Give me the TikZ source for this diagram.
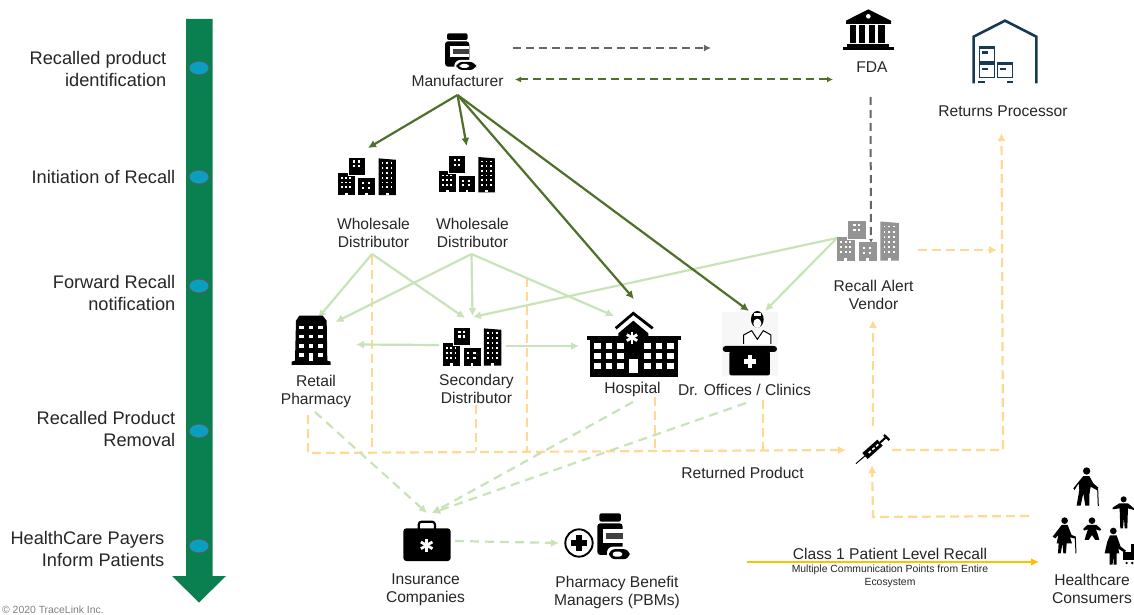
\documentclass[tikz,border=0pt]{standalone}
\usepackage{fontspec}
\setmainfont{Liberation Sans}
\usetikzlibrary{arrows.meta}
\definecolor{darkg}{HTML}{4F6F2A}
\definecolor{lightg}{HTML}{C9E3B8}
\definecolor{orng}{HTML}{FFD992}
\definecolor{gold}{HTML}{FFC000}
\definecolor{bar}{HTML}{0A8051}
\definecolor{dotc}{HTML}{0A9FBE}
\definecolor{navy}{HTML}{173A52}
\definecolor{txt}{HTML}{262626}
\tikzset{
  x=1pt,y=-1pt,
  lab/.style={inner sep=0pt,align=center,text=txt,font=\fontsize{15.6}{18}\selectfont},
  side/.style={inner sep=0pt,align=right,anchor=east,text=txt,font=\fontsize{18.2}{22}\selectfont},
  tipL/.style={-{Latex[length=8pt,width=8pt]}},
  solidG/.style={draw=darkg,line width=2.2pt,tipL},
  solidL/.style={draw=lightg,line width=2.2pt,tipL},
  dashL/.style={draw=lightg,line width=2.2pt,tipL,dash pattern=on 9pt off 6pt},
  dashO/.style={draw=orng,line width=2.2pt,dash pattern=on 9pt off 5pt},
  dashG/.style={draw=#1,line width=2pt,dash pattern=on 8pt off 5pt},
  dot/.style={draw=gray!70!black,line width=0.8pt,fill=dotc},
}
\newcommand\bldg[4]{%
  \begin{scope}[shift={(#1,#2)},scale=#3]
    \fill[#4] (0,46) rectangle (49,110);
    \fill[#4] (59,60) rectangle (108,110);
    \draw[white,line width=1pt,fill=#4] (29,0) rectangle (79,53);
    \fill[#4] (117,4) -- (167,8) -- (167,110) -- (117,110) -- cycle;
    \foreach \wx in {9,21,33}\foreach \wy in {57,71,85}\fill[white] (\wx,\wy) rectangle +(5,5);
    \foreach \wx in {44,57}\foreach \wy in {10,24}\fill[white] (\wx,\wy) rectangle +(6,6);
    \foreach \wx in {69,87}\foreach \wy in {72,86}\fill[white] (\wx,\wy) rectangle +(6,6);
    \foreach \wx in {126,139,152}\foreach \wy in {15,29,43,57,71,85}\fill[white] (\wx,\wy) rectangle +(5,5);
    \fill[white] (20,103) rectangle (28,110);
    \fill[white] (79,103) rectangle (87,110);
    \fill[white] (138,103) rectangle (146,110);
  \end{scope}}
\newcommand\bottle[4]{%
  \begin{scope}[shift={(#1,#2)},xscale=#3,yscale=#4]
    \fill[black,rounded corners=2pt] (6,0) rectangle (68,20);
    \fill[black,rounded corners=3pt] (0,24) rectangle (73,100);
    \fill[white] (15,38) rectangle (73,72);
    \fill[black!75] (24,48) rectangle (73,62);
    \fill[white,rounded corners=6pt] (28,80) rectangle (98,116);
    \fill[black,rounded corners=6pt] (34,86) rectangle (93,110);
    \fill[white,rounded corners=3pt] (44,92) rectangle (72,104);
  \end{scope}}
\begin{document}
\begin{tikzpicture}
\useasboundingbox (0,0) rectangle (1134,615);
\fill[white] (0,0) rectangle (1134,615);

% timeline bar
\fill[bar] (186,19) -- (212.5,19) -- (212.5,576) -- (226,576) -- (199,602.5) -- (172,576) -- (186,576) -- cycle;
\foreach \ey in {68,177,286,431,546}\draw[dot] (199,\ey) ellipse (10 and 7);

% side labels
\node[side] (s1) at (166.5,69) {Recalled product\\identification};
\node[side] (s2) at (175.5,177) {Initiation of Recall};
\node[side] (s3) at (175.5,293) {Forward Recall\\notification};
\node[side] (s4) at (175.5,429) {Recalled Product\\Removal};
\node[side] (s5) at (164.5,549) {HealthCare Payers\\Inform Patients};
\node[inner sep=0pt,anchor=west,text=black!50,font=\fontsize{10.4}{12}\selectfont] (c) at (2,610) {© 2020 TraceLink Inc.};

% named connector points
\coordinate (mO) at (457.5,95);
\coordinate (wdA) at (368,148);
\coordinate (wdB) at (466.7,146);
\coordinate (hosT) at (634,299);
\coordinate (docT) at (749,311);
\coordinate (g1s) at (513,48); \coordinate (g1e) at (711,48);
\coordinate (g2s) at (515,79.5); \coordinate (g2e) at (833,79.5);
\coordinate (fdaB) at (870.5,97); \coordinate (ravT) at (871,243);
\coordinate (w1B) at (372,254); \coordinate (w2B) at (471.5,254);
\coordinate (rp1) at (318,318); \coordinate (rp2) at (335.5,322);
\coordinate (sd1) at (465,318); \coordinate (sd2) at (472.5,316); \coordinate (sd3) at (473,317);
\coordinate (hos1) at (614,316);
\coordinate (rav) at (837,238); \coordinate (doc2) at (765,311);
\coordinate (sdL) at (439,345); \coordinate (rpR) at (356,344.5);
\coordinate (sdR) at (506,346); \coordinate (hosL) at (579,346);
\coordinate (or1) at (372,256); \coordinate (or1b) at (372,452);
\coordinate (or2) at (308,415); \coordinate (or2b) at (308,453); \coordinate (or2e) at (846,450);
\coordinate (or3) at (476,405); \coordinate (or3b) at (476,451);
\coordinate (or4) at (527,278); \coordinate (or4b) at (527,451);
\coordinate (or5) at (655,397); \coordinate (or5b) at (655,450);
\coordinate (or6) at (763,400); \coordinate (or6b) at (763,450);
\coordinate (or7) at (892,450); \coordinate (or7b) at (1003,450); \coordinate (retB) at (1001.5,133);
\coordinate (or8) at (873,426); \coordinate (ravB) at (873,320);
\coordinate (conL) at (1029,516); \coordinate (or9) at (873,517); \coordinate (syrB) at (872,465);
\coordinate (or10) at (918,250); \coordinate (or10e) at (997,250);
\coordinate (ld1) at (315,412); \coordinate (ld2) at (633,402); \coordinate (ld3) at (746,403);
\coordinate (ins1) at (427,513); \coordinate (ins2) at (432,513);
\coordinate (insR) at (455,541); \coordinate (pbmL) at (559,543);
\coordinate (c1s) at (747,562); \coordinate (c1e) at (1039,562);

% orange returns
\draw[dashO] (or1) -- (or1b);
\draw[dashO,tipL] (or2) -- (or2b) -- (or2e);
\draw[dashO] (or3) -- (or3b);
\draw[dashO] (or4) -- (or4b);
\draw[dashO] (or5) -- (or5b);
\draw[dashO] (or6) -- (or6b);
\draw[dashO,tipL] (or7) -- (or7b) -- (retB);
\draw[dashO,tipL] (or8) -- (ravB);
\draw[dashO,tipL] (conL) -- (or9) -- (syrB);
\draw[dashO,tipL] (or10) -- (or10e);

% light green solid
\draw[solidL] (w1B) -- (rp1);
\draw[solidL] (w1B) -- (sd1);
\draw[solidL] (w2B) -- (rp2);
\draw[solidL] (w2B) -- (sd2);
\draw[solidL] (w2B) -- (hos1);
\draw[solidL] (rav) -- (sd3);
\draw[solidL] (rav) -- (doc2);
\draw[solidL] (sdL) -- (rpR);
\draw[solidL] (sdR) -- (hosL);

% light green dashed
\draw[dashL] (ld1) -- (ins1);
\draw[dashL] (ld2) -- (ins2);
\draw[dashL] (ld3) -- (ins2);
\draw[dashL] (insR) -- (pbmL);

% dark arrows
\foreach \t in {wdA,wdB,hosT,docT}\draw[solidG] (mO) -- (\t);
\draw[dashG=black!60,-{Latex[length=7pt,width=7pt]}] (g1s) -- (g1e);
\draw[dashG=darkg,{Latex[length=6pt,width=6pt]}-{Latex[length=6pt,width=6pt]}] (g2s) -- (g2e);
\draw[dashG=black!60,-{Latex[length=4pt,width=4pt]}] (fdaB) -- (ravT);
\draw[draw=gold,line width=2.4pt,-{Latex[length=8pt,width=8pt]}] (c1s) -- (c1e);

% manufacturer + PBM bottles
\bottle{445}{33.3}{0.3333}{0.3333}
\bottle{597.3}{513.3}{0.3467}{0.4167}

% buildings
\bldg{338}{157}{0.347}{black}
\bldg{439.3}{155.7}{0.3333}{black}
\bldg{443}{327}{0.35}{black}
\bldg{837}{220}{0.37}{black!42}

% FDA
\begin{scope}[shift={(820,0)},scale=0.3333]
  \fill (145,28) -- (213,62) -- (213,72) -- (78,72) -- (78,62) -- cycle;
  \fill[white] (145,49) circle (7);
  \foreach \cx in {89,117,146,175}\fill (\cx,76) rectangle +(19,54);
  \fill (82,131) rectangle (208,141);
  \fill (70,141) rectangle (222,150);
\end{scope}

% warehouse
\begin{scope}[shift={(820,0)},scale=0.3333]
  \draw[navy,line width=2.6pt,line join=miter] (461,250) -- (461,110) -- (555,62) -- (649,110) -- (649,250);
  \fill[navy] (476,137) rectangle (526,145);
  \fill[navy] (476,186) rectangle (526,193);
  \fill[navy] (530,186) rectangle (580,193);
  \draw[navy,line width=1pt] (479,145) rectangle (523,184);
  \draw[navy,line width=1pt] (479,193) rectangle (523,233);
  \draw[navy,line width=1pt] (533,193) rectangle (577,233);
  \fill[navy] (486,153) rectangle (504,161);
  \fill[navy] (486,203) rectangle (504,210);
  \fill[navy] (540,203) rectangle (558,210);
  \fill[navy] (475,242) rectangle (495,250);
  \fill[navy] (562,242) rectangle (580,250);
\end{scope}

% retail pharmacy
\begin{scope}[shift={(270,300)},scale=0.3333]
  \fill (78,62) -- (88,47) -- (158,47) -- (170,62) -- (172,182) -- (182,185) -- (182,195) -- (65,195) -- (65,185) -- (75,182) -- cycle;
  \foreach \wx in {88,116,145}\foreach \wy in {78,105,133,160}\fill[white] (\wx,\wy) rectangle +(14,10);
  \fill[white] (117,160) rectangle (129,183);
\end{scope}

% hospital + doctor
\begin{scope}[shift={(570,300)},scale=0.3333]
  \fill (60,120) rectangle (325,230);
  \fill (52,108) rectangle (332,120);
  \fill (190,62) -- (235,100) -- (235,120) -- (145,120) -- (145,100) -- cycle;
  \draw[line width=2.8pt,line cap=butt] (137,85) -- (190,40) -- (248,85);
  \foreach \wx in {72,107,142,222,257,292}\foreach \wy in {130,160,190}\fill[white] (\wx,\wy) rectangle +(20,18);
  \fill[white] (178,178) rectangle (205,218);
  \foreach \ang in {0,60,120}\draw[white,line width=2.8pt,rotate around={\ang:(186,113)}] (186,95) -- (186,131);
  % doctor
  \fill[black!3] (457,35) rectangle (623,228);
  \fill (562,58) ellipse (19 and 25);
  \fill[white] (562,70) ellipse (12 and 14);
  \fill[white] (552,40) rectangle (572,47);
  \draw[line width=1pt,fill=white] (521,132) -- (521,105) -- (545,92) -- (562,118) -- (580,92) -- (603,105) -- (603,132);
  \fill[rounded corners=3pt] (458,138) rectangle (621,156);
  \fill[rounded corners=2pt] (478,154) rectangle (600,226);
  \fill[white] (533,165) rectangle (547,203);
  \fill[white] (521,177) rectangle (559,191);
\end{scope}

% syringe
\begin{scope}[shift={(570,300)},scale=0.3333]
  \draw[line width=1pt] (858,491) -- (887,466);
  \draw[line width=8pt] (885,468) -- (930,428);
  \draw[line width=2pt] (930,428) -- (948,412);
  \draw[line width=2.4pt] (942,405) -- (958,420);
  \draw[white,line width=1.6pt,dash pattern=on 3pt off 2pt] (896,459) -- (925,433);
\end{scope}

% briefcase
\begin{scope}[shift={(380,500)},scale=0.3333]
  \draw[line width=2.2pt,rounded corners=3pt] (116,88) -- (116,65) -- (165,65) -- (165,88);
  \fill[rounded corners=3pt] (70,85) rectangle (212,183);
  \foreach \ang in {0,60,120}\draw[white,line width=2.8pt,rotate around={\ang:(140,136)}] (140,116) -- (140,156);
  % PBM cross circle
  \draw[line width=1.9pt] (597,129) circle (41);
  \fill (572,119) rectangle (622,139);
  \fill (587,104) rectangle (607,154);
\end{scope}

% consumers
\begin{scope}[shift={(730,440)},scale=0.3333]
  \fill (1070,93) circle (11);
  \fill (1060,108) -- (1078,108) -- (1090,130) -- (1105,143) -- (1100,150) -- (1082,140) -- (1078,165) -- (1078,197) -- (1066,197) -- (1060,160) -- (1052,197) -- (1040,197) -- (1048,150) -- (1046,130) -- (1034,150) -- (1030,145) -- cycle;
  \draw[line width=1pt] (1103,145) -- (1105,198);
  \fill (1181,178) circle (9);
  \fill (1168,190) -- (1194,190) -- (1212,205) -- (1212,210) -- (1194,205) -- (1192,265) -- (1184,265) -- (1182,232) -- (1179,265) -- (1171,265) -- (1169,205) -- (1148,208) -- (1148,203) -- cycle;
  \fill (1086,242) circle (10);
  \fill (1072,255) -- (1100,255) -- (1114,268) -- (1110,272) -- (1098,268) -- (1104,285) -- (1108,300) -- (1096,300) -- (1086,285) -- (1076,300) -- (1064,300) -- (1068,285) -- (1074,268) -- (1062,272) -- (1060,266) -- cycle;
  \fill (1004,242) circle (10);
  \fill (995,255) -- (1013,255) -- (1025,285) -- (1038,290) -- (1036,296) -- (1020,292) -- (1026,310) -- (1010,310) -- (1008,340) -- (1000,340) -- (998,310) -- (992,340) -- (984,340) -- (986,310) -- (980,310) -- (985,285) -- (976,295) -- (968,290) -- cycle;
  \draw[line width=1pt] (1036,292) -- (1038,340);
  \fill (1150,273) circle (10);
  \fill (1140,286) -- (1160,286) -- (1172,320) -- (1188,332) -- (1184,338) -- (1165,326) -- (1168,340) -- (1160,340) -- (1160,374) -- (1151,374) -- (1150,340) -- (1148,374) -- (1139,374) -- (1139,340) -- (1124,340) -- (1132,305) -- cycle;
  \fill (1178,335) rectangle (1212,360);
  \fill (1204,313) rectangle (1212,335);
  \fill (1190,369) circle (4);
  \fill (1207,369) circle (4);
\end{scope}

% labels
\node[lab] (man) at (457.5,81) {Manufacturer};
\node[lab] (fda) at (872,67.5) {FDA};
\node[lab] (ret) at (1003,111.5) {Returns Processor};
\node[lab] (wd1) at (373.5,233) {Wholesale\\Distributor};
\node[lab] (wd2) at (472.5,233) {Wholesale\\Distributor};
\node[lab] (rv) at (873.5,295) {Recall Alert\\Vendor};
\node[lab] (rp) at (316,391) {Retail\\Pharmacy};
\node[lab] (sd) at (476.5,389) {Secondary\\Distributor};
\node[lab] (hosp) at (632.5,389.5) {Hospital};
\node[lab] (doc) at (744.5,389.5) {Dr. Offices / Clinics};
\node[lab] (rtp) at (742.5,472.5) {Returned Product};
\node[lab] (ins) at (425.5,590) {Insurance\\Companies};
\node[lab] (pbm) at (617,592) {Pharmacy Benefit\\Managers (PBMs)};
\node[lab] (hc) at (1092,589) {Healthcare\\Consumers};
\node[lab] (cl) at (890,554) {Class 1 Patient Level Recall};
\node[lab,font=\fontsize{10.4}{13}\selectfont] (sub) at (890,576) {Multiple Communication Points from Entire\\Ecosystem};
\end{tikzpicture}
\end{document}
